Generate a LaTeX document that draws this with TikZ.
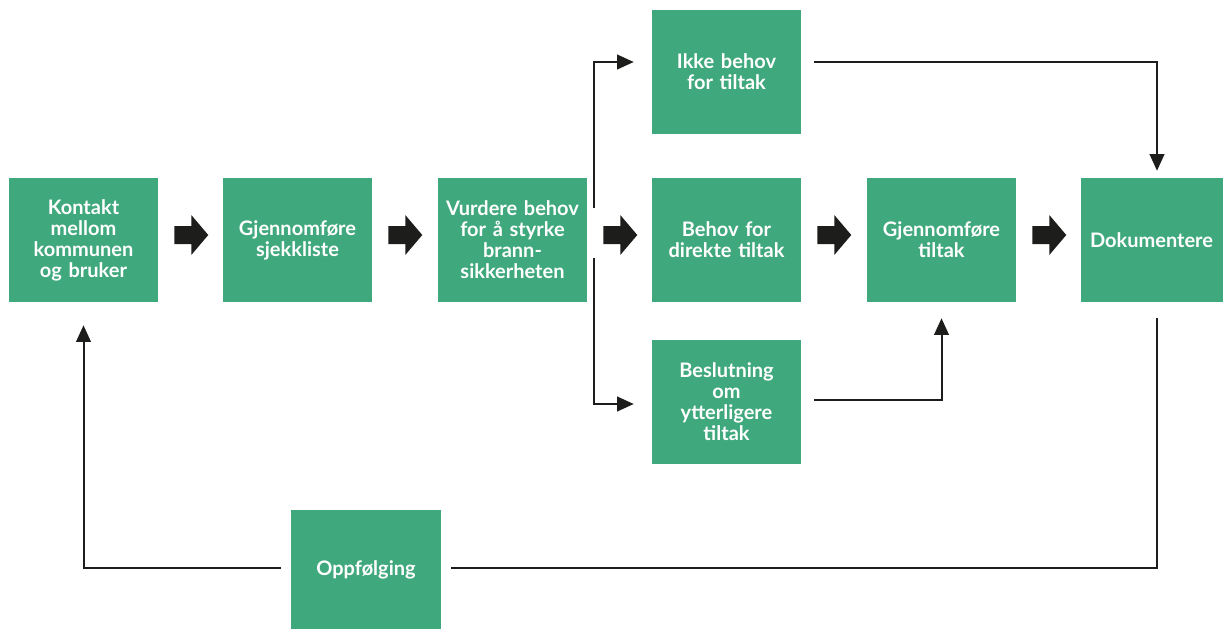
\documentclass[tikz,border=0pt]{standalone}
\usepackage{fontspec}
\setmainfont{Lato}
\usetikzlibrary{arrows.meta,calc}
\definecolor{boxgreen}{RGB}{63,168,124}
\definecolor{arrowblack}{RGB}{29,29,27}
\begin{document}
\begin{tikzpicture}[x=0.75pt,y=-0.75pt,
  box/.style={fill=boxgreen, text=white, minimum width=111.75pt, minimum height=93pt,
    inner sep=0pt, align=center, text width=110pt,
    font=\fontsize{15}{15.75}\selectfont\bfseries},
  conn/.style={draw=arrowblack, line width=1.5pt, -{Triangle[length=12.5pt,width=11pt]}},
  plainline/.style={draw=arrowblack, line width=1.5pt},
  fatarrow/.style={fill=arrowblack}]
\useasboundingbox (0,0) rectangle (1223,629);

\node[box] (kontakt) at (83.5,240) {Kontakt\\mellom\\kommunen\\og bruker};
\node[box] (sjekk) at (297.5,240) {Gjennomføre\\sjekkliste};
\node[box] (vurdere) at (512.5,240) {Vurdere behov\\for å styrke\\brann-\\sikkerheten};
\node[box] (ikke) at (726.5,72) {Ikke behov\\for tiltak\\[12pt]};
\node[box] (behov) at (726.5,240) {Behov for\\direkte tiltak};
\node[box] (tiltak) at (941.5,240) {Gjennomføre\\tiltak};
\node[box, minimum width=106.5pt, text width=106pt] (dok) at (1151.5,240) {Dokumentere};
\node[box] (beslut) at (726.5,402) {Beslutning\\om\\ytterligere\\tiltak};
\node[box, minimum width=112.5pt, minimum height=89.25pt] (opp) at (366,569.5) {Oppfølging};

% fat block arrows between row boxes
\foreach \a/\b in {kontakt/sjekk, sjekk/vurdere, vurdere/behov, behov/tiltak, tiltak/dok}{
  \fill[fatarrow] ($(\a.east)+(16,-5)$) coordinate (s)
    -- ++(0,-9) -- ++(17,0) -- ++(0,-11) -- ++(17,20) -- ++(-17,20) -- ++(0,-11) -- ++(-17,0) -- cycle;
}

% branches from Vurdere
\coordinate (vtop) at ($(vurdere.east)+(7,-32)$);
\coordinate (vbot) at ($(vurdere.east)+(7,18)$);
\draw[conn] (vtop) |- ($(ikke.west)+(-18,-10)$);
\draw[conn] (vbot) |- ($(beslut.west)+(-18,2)$);

% Ikke behov -> Dokumentere
\draw[conn] ($(ikke.east)+(13,-10)$) -| ($(dok.north)+(5.5,-7)$);

% Beslutning -> Gjennomfore tiltak
\draw[conn] ($(beslut.east)+(13,-2)$) -| ($(tiltak.south)+(0,16)$);

% Dokumentere -> Oppfolging (no head)
\draw[plainline] ($(dok.south)+(5.5,16)$) |- ($(opp.east)+(10,-1.5)$);

% Oppfolging -> Kontakt
\draw[conn] ($(opp.west)+(-10,-1.5)$) -| ($(kontakt.south)+(0,23)$);
\end{tikzpicture}
\end{document}
